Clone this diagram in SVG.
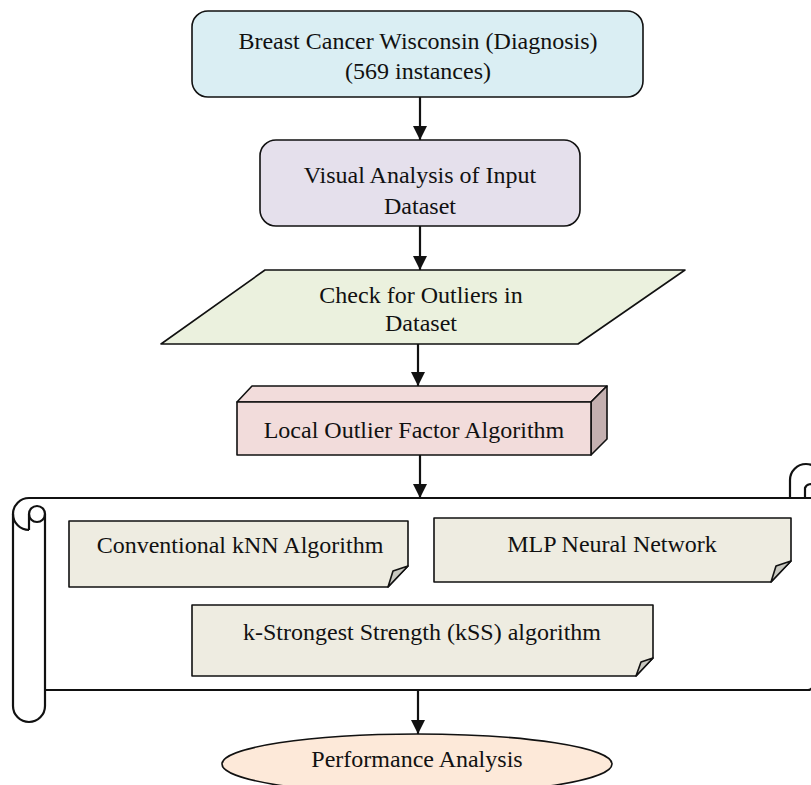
<svg xmlns="http://www.w3.org/2000/svg" width="811" height="785" viewBox="0 0 811 785">
<defs>
<style>
text{font-family:"Liberation Serif","Times New Roman",serif;font-size:24px;fill:#111;text-anchor:middle}
.s{stroke:#111;stroke-width:1.6;stroke-linejoin:round}
.sc{fill:none;stroke:#111;stroke-width:2.2}
.note{fill:#eeece1}
.fold{fill:#c8c8c0}
.ln{stroke:#111;stroke-width:2.2;fill:none}
</style>
<marker id="ah" markerWidth="14" markerHeight="14" viewBox="0 0 14 14" refX="14" refY="7" orient="auto" markerUnits="userSpaceOnUse">
<path d="M0,0 L14,7 L0,14 Z" fill="#111"/>
</marker>
</defs>
<rect width="811" height="785" fill="#fff"/>

<g id="connectors">
<line class="ln" x1="420" y1="97" x2="420" y2="140" marker-end="url(#ah)"/>
<line class="ln" x1="420" y1="226" x2="420" y2="270" marker-end="url(#ah)"/>
<line class="ln" x1="418" y1="344" x2="418" y2="386" marker-end="url(#ah)"/>
<line class="ln" x1="420" y1="455" x2="420" y2="498" marker-end="url(#ah)"/>
<line class="ln" x1="418" y1="690" x2="418" y2="734" marker-end="url(#ah)"/>
</g>

<g id="dataset">
<rect class="s" x="192" y="11" width="451" height="86" rx="16" fill="#daeef3"/>
<text x="418" y="49">Breast Cancer Wisconsin (Diagnosis)</text>
<text x="418" y="79">(569 instances)</text>
</g>

<g id="visual">
<rect class="s" x="260" y="140" width="320" height="86" rx="16" fill="#e5e0ec"/>
<text x="420" y="183">Visual Analysis of Input</text>
<text x="420" y="214">Dataset</text>
</g>

<g id="outliers">
<path class="s" d="M265,270 L685,270 L578,344 L161,344 Z" fill="#ebf1de"/>
<text x="421" y="303">Check for Outliers in</text>
<text x="421" y="331">Dataset</text>
</g>

<g id="lof">
<path class="s" d="M237,402 L252,386 L607,386 L591,402 Z" fill="#f2dcdb"/>
<path class="s" d="M591,402 L607,386 L607,439 L591,455 Z" fill="#c4b0b0"/>
<rect class="s" x="237" y="402" width="354" height="53" fill="#f2dcdb"/>
<text x="414" y="438">Local Outlier Factor Algorithm</text>
</g>

<g id="scroll">
<path d="M29,498 L830,498 L830,690 L45,690 L45,706 A16,16 0 0 1 13,706 L13,514 A16,16 0 0 1 29,498 Z" fill="#fff"/>
<path class="sc" d="M29,498 L811,498"/>
<path class="sc" d="M790,498 L790,480 A16,16 0 0 1 822,480"/>
<path class="sc" d="M805,498 L805,488 A6,6 0 0 1 815,486"/>
<path class="sc" d="M29,530 A16,16 0 0 1 13,514 A16,16 0 0 1 29,498"/>
<path class="sc" d="M13,514 L13,706 A16,16 0 0 0 45,706 L45,514"/>
<circle class="sc" cx="37" cy="514" r="8"/>
<path class="sc" d="M29,514 L29,530"/>
<path class="sc" d="M45,690 L808,690 Q811,690 812,688"/>
</g>

<g id="knn">
<path class="s note" d="M69,521 L408,521 L408,566 L388,587 L69,587 Z"/>
<path class="s fold" d="M388,587 L393,571 L408,566 Z"/>
<text x="240" y="553">Conventional kNN Algorithm</text>
</g>

<g id="mlp">
<path class="s note" d="M434,518 L791,518 L791,561 L771,582 L434,582 Z"/>
<path class="s fold" d="M771,582 L776,566 L791,561 Z"/>
<text x="612" y="552">MLP Neural Network</text>
</g>

<g id="kss">
<path class="s note" d="M192,605 L653,605 L653,658 L636,676 L192,676 Z"/>
<path class="s fold" d="M636,676 L641,662 L653,658 Z"/>
<text x="422" y="640">k-Strongest Strength (kSS) algorithm</text>
</g>

<g id="performance">
<ellipse class="s" cx="417" cy="764" rx="195" ry="30" fill="#fde9d9"/>
<text x="417" y="767">Performance Analysis</text>
</g>
</svg>
